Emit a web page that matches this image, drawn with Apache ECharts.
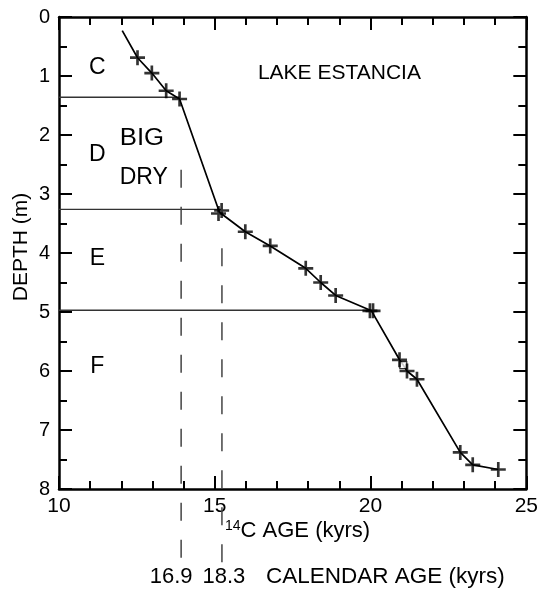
<!DOCTYPE html>
<html><head><meta charset="utf-8">
<script src="https://cdn.jsdelivr.net/npm/echarts@6/dist/echarts.min.js"></script>
<style>html,body{margin:0;padding:0;background:#fff}#c{width:541px;height:593px}</style>
</head><body><div id="c"></div>
<script>
// Age-depth path (14C age kyrs, depth m)
const pathAge   = [12.03, 12.52, 12.98, 13.44, 13.87, 15.15, 15.98, 16.78, 17.92, 18.40, 18.88, 20.03, 20.93, 21.05, 21.17, 21.49, 22.88, 23.28, 24.10];
const pathDepth = [0.23, 0.69, 0.95, 1.25, 1.39, 3.31, 3.64, 3.88, 4.26, 4.50, 4.72, 4.98, 5.81, 5.90, 6.00, 6.14, 7.38, 7.59, 7.67];
// Dated samples (crosses)
const crossAge   = [12.52, 12.98, 13.44, 13.87, 15.12, 15.22, 15.98, 16.78, 17.92, 18.40, 18.88, 19.98, 20.08, 20.93, 21.17, 21.49, 22.88, 23.28, 24.10];
const crossDepth = [0.69, 0.95, 1.25, 1.39, 3.33, 3.28, 3.64, 3.88, 4.26, 4.50, 4.72, 4.98, 4.98, 5.81, 6.00, 6.14, 7.38, 7.59, 7.67];
const squareAge = [21.05], squareDepth = [5.90];
// Unit boundaries
const boundDepth = [1.36, 3.26, 4.97];
const boundAge   = [13.87, 15.20, 20.00];
// Calendar-age markers
const calAge14C = [13.92, 15.23];
const calTop    = [2.59, 3.92];
const calBottom = [9.30, 9.30];
const calLabels = ['16.9', '18.3'];
// Units
const unitNames = ['C', 'D', 'E', 'F'];
const unitDepth = [0.86, 2.33, 4.1, 5.92];
const xTicks = [10, 15, 20, 25];
const yTicks = [0, 1, 2, 3, 4, 5, 6, 7, 8];

const FONT = 'Liberation Sans, Arial, Helvetica, sans-serif';
const chart = echarts.init(document.getElementById('c'), null, {renderer: 'canvas'});

const axisCommon = {
  axisLine: {show: true, onZero: false, lineStyle: {color: '#000', width: 2.5}},
  axisTick: {show: true, inside: true, length: 13, lineStyle: {color: '#000', width: 2}},
  splitLine: {show: false}, minorSplitLine: {show: false}
};
const xBase = Object.assign({type: 'value', min: xTicks[0], max: xTicks[xTicks.length-1], interval: 5}, axisCommon);
xBase.minorTick = {show: true, splitNumber: 5, length: 8, lineStyle: {color: '#000', width: 2}};
const yBase = Object.assign({type: 'value', min: yTicks[0], max: yTicks[yTicks.length-1], interval: 1, inverse: true}, axisCommon);
yBase.minorTick = {show: true, splitNumber: 2, length: 8, lineStyle: {color: '#000', width: 2}};

const zip = (a, b) => a.map((v, i) => [v, b[i]]);
const series = [];
series.push({type: 'line', data: zip(pathAge, pathDepth), symbol: 'none', lineStyle: {color: '#000', width: 1.7}, z: 3});
series.push({type: 'scatter', data: zip(crossAge, crossDepth),
  symbol: 'path://M6,0h2.6v6h6v2.6h-6v6h-2.6v-6h-6v-2.6h6z', symbolSize: 15,
  itemStyle: {color: '#000'}, z: 5});
series.push({type: 'scatter', data: zip(squareAge, squareDepth), symbol: 'rect', symbolSize: 7,
  itemStyle: {color: '#fff', borderColor: '#000', borderWidth: 1.2}, z: 4});
boundDepth.forEach((d, i) => series.push({type: 'line', data: [[xTicks[0], d], [boundAge[i], d]], symbol: 'none',
  lineStyle: {color: '#333', width: 1.3}, z: 2}));
calAge14C.forEach((a, i) => series.push({type: 'line', data: [[a, calTop[i]], [a, calBottom[i]]], symbol: 'none',
  clip: false, lineStyle: {color: '#444', width: 1.5, type: [18, 19]}, z: 2}));

chart.setOption({
  animation: false,
  grid: {left: 59, top: 17, width: 469, height: 472, containLabel: false},
  xAxis: [
    Object.assign({}, xBase, {position: 'bottom',
      axisLabel: {show: true, color: '#000', fontSize: 21, fontFamily: FONT, margin: 7}}),
    Object.assign({}, xBase, {position: 'top', axisLabel: {show: false}})
  ],
  yAxis: [
    Object.assign({}, yBase, {position: 'left',
      axisLabel: {show: true, color: '#000', fontSize: 20, fontFamily: FONT, margin: 9}}),
    Object.assign({}, yBase, {position: 'right', axisLabel: {show: false}})
  ],
  series: series.map(s => Object.assign({xAxisIndex: 0, yAxisIndex: 0}, s))
});

const px = (x, y) => chart.convertToPixel({xAxisIndex: 0, yAxisIndex: 0}, [x, y]);
const txt = (x, y, text, size, align, extra) => Object.assign({type: 'text', x: x, y: y, z: 10,
  style: {text: text, fill: '#000', font: size + 'px ' + FONT, align: align || 'center', verticalAlign: 'middle'}}, extra || {});
const g = [];
unitNames.forEach((n, i) => { const q = px(11.2, unitDepth[i]); g.push(txt(q[0] + 1, q[1], n, 23)); });
let p = px(19.0, 0.95); g.push(txt(p[0], p[1], 'LAKE ESTANCIA', 21));
p = px(11.95, 2.07); g.push(txt(p[0], p[1], 'BIG', 23, 'left', {scaleX: 1.12, originX: 0, originY: 0}));
p = px(11.95, 2.72); g.push(txt(p[0], p[1], 'DRY', 23, 'left'));
// y axis title
g.push({type: 'text', x: 21, y: 247, rotation: Math.PI / 2, z: 10,
  style: {text: 'DEPTH (m)', fill: '#000', font: '21px ' + FONT, align: 'center', verticalAlign: 'middle'}});
// 14C axis title with superscript
g.push({type: 'text', x: 225, y: 531, z: 10, style: {
  text: '{s|14}{n|C AGE (kyrs)}', fill: '#000', verticalAlign: 'middle', align: 'left',
  rich: {s: {fontSize: 14, fontFamily: FONT, verticalAlign: 'top', padding: [0, 0, 10, 0]}, n: {fontSize: 22, fontFamily: FONT}}}});
calLabels.forEach((l, i) => { const q = px(calAge14C[i], calBottom[i]); g.push(txt(q[0] + (i === 0 ? -10 : 2), 577, l, 22)); });
g.push(txt(266, 577, 'CALENDAR AGE (kyrs)', 22.5, 'left'));
chart.setOption({graphic: g});
</script></body></html>
